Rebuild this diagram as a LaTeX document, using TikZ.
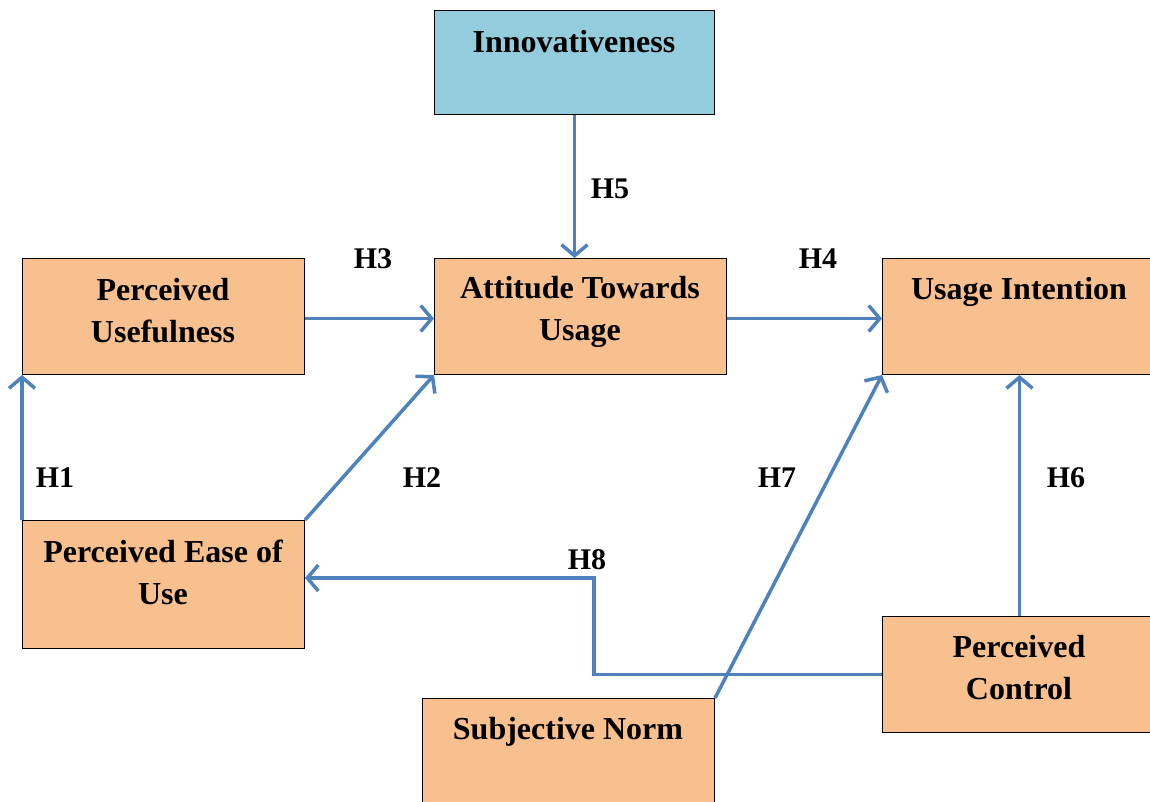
\documentclass[tikz,border=0pt]{standalone}
\usepackage{fontspec}
\setmainfont{Liberation Serif}
\usetikzlibrary{arrows.meta}
\definecolor{boxorange}{HTML}{F9C08F}
\definecolor{boxblue}{HTML}{93CDDD}
\definecolor{linkblue}{HTML}{4F81BD}
\tikzset{
  box/.style={draw=black, line width=1pt, rectangle, anchor=north west, inner sep=0pt},
  obox/.style={box, fill=boxorange},
  bbox/.style={box, fill=boxblue},
  lbl/.style={font=\fontsize{32}{42}\selectfont\bfseries, align=center, inner sep=0pt},
  hlbl/.style={font=\fontsize{30}{36}\selectfont\bfseries, inner sep=0pt},
  link/.style={draw=linkblue, line width=3.5pt, -{Straight Barb[length=11pt, width=26pt, line width=3.5pt]}},
}
\begin{document}
\begin{tikzpicture}[x=1pt, y=-1pt]
\useasboundingbox (0,0) rectangle (1150,801);
% boxes
\node[bbox, minimum width=280, minimum height=104] (inn) at (434,10) {};
\node[obox, minimum width=282, minimum height=116] (pu) at (22,258) {};
\node[obox, minimum width=292, minimum height=116] (att) at (434,258) {};
\node[obox, minimum width=274, minimum height=116] (ui) at (882,258) {};
\node[obox, minimum width=282, minimum height=128] (pe) at (22,520) {};
\node[obox, minimum width=292, minimum height=124] (sn) at (422,698) {};
\node[obox, minimum width=274, minimum height=116] (pc) at (882,616) {};
% texts
\node[lbl] (innt) at (574,42) {Innovativeness};
\node[lbl] (put) at (163,311) {Perceived\\Usefulness};
\node[lbl] (attt) at (580,312) {Attitude Towards\\Usage};
\node[lbl] (uit) at (1019,292) {Usage Intention};
\node[lbl] (pet) at (163,572) {Perceived Ease of\\Use};
\node[lbl] (snt) at (568,732) {Subjective Norm};
\node[lbl] (pct) at (1019,668) {Perceived\\Control};
% connectors
\coordinate (h8a) at (594,578);
\draw[link] (inn.south) -- (inn.south |- att.north);
\draw[link] ([yshift=-2pt]pu.east) -- ([yshift=-2pt]att.west);
\draw[link] ([yshift=-2pt]att.east) -- ([yshift=-2pt]ui.west);
\draw[link] (pe.north west) -- (pu.south west);
\draw[link] (pe.north east) -- (att.south west);
\draw[link] (sn.north east) -- (ui.south west);
\draw[link] (pc.north) -- (ui.south);
\draw[link] (pc.west) -| (h8a) -- (h8a -| pe.east);
% hypothesis labels
\node[hlbl] (h1) at (55,478) {H1};
\node[hlbl] (h2) at (422,478) {H2};
\node[hlbl] (h3) at (373,259) {H3};
\node[hlbl] (h4) at (818,259) {H4};
\node[hlbl] (h5) at (610,189) {H5};
\node[hlbl] (h6) at (1066,478) {H6};
\node[hlbl] (h7) at (777,478) {H7};
\node[hlbl] (h8) at (587,560) {H8};
\end{tikzpicture}
\end{document}
